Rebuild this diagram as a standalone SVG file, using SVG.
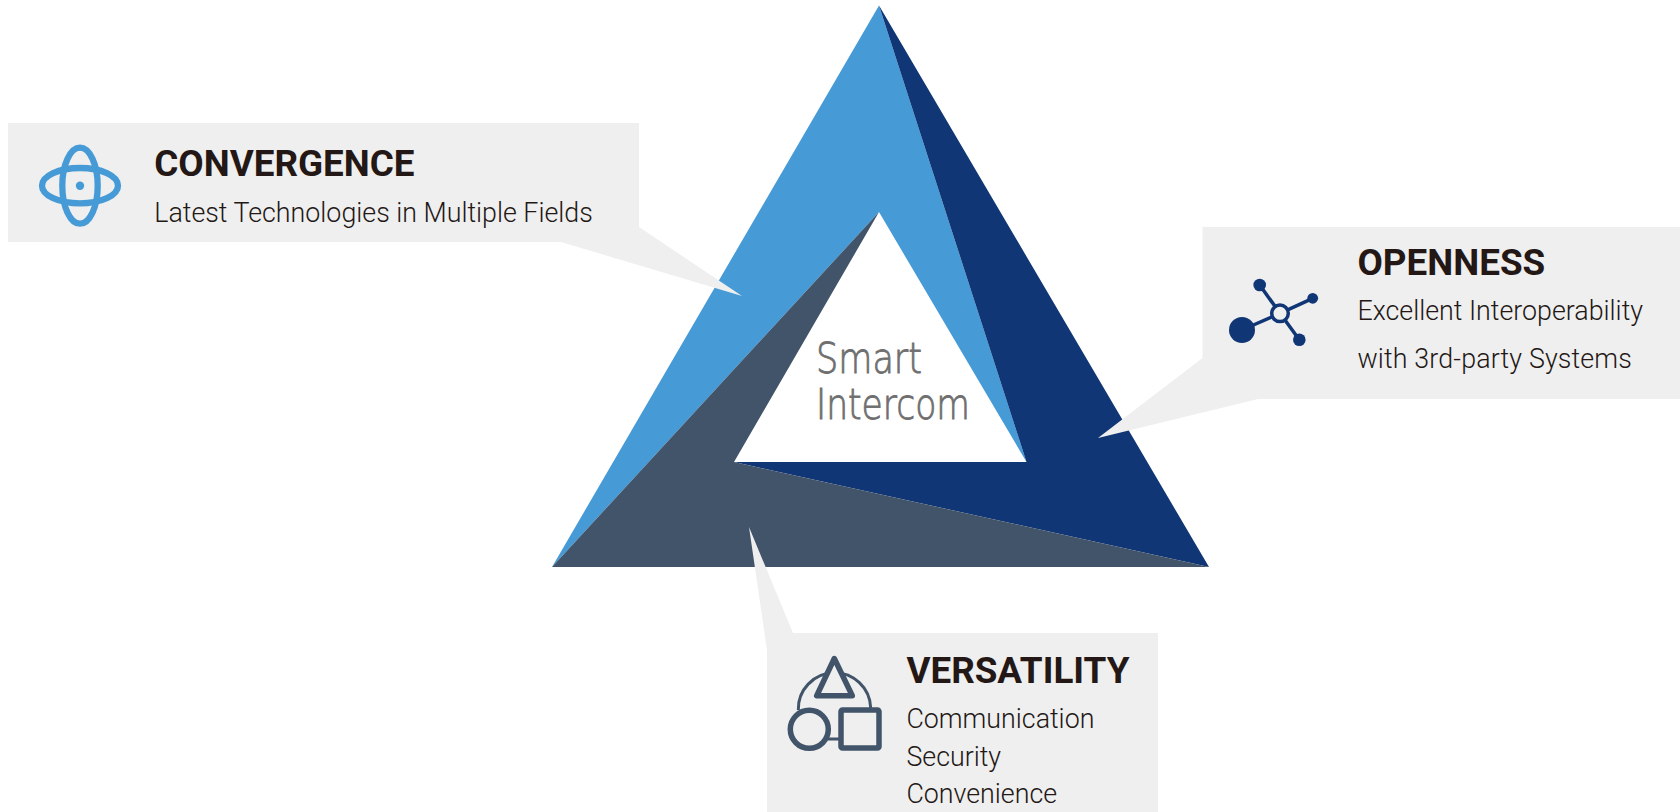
<svg xmlns="http://www.w3.org/2000/svg" width="1680" height="812" viewBox="0 0 1680 812">
<style>
.box{fill:#efefef}
.h{font-family:Roboto,"Liberation Sans",sans-serif;font-weight:700;font-size:36.8px;fill:#231815}
.s{font-family:Roboto,"Liberation Sans",sans-serif;font-weight:300;font-size:26.8px;fill:#231815}
.c{font-family:"DejaVu Sans","Liberation Sans",sans-serif;font-weight:200;font-size:43px;fill:#6f6f6f;stroke:#6f6f6f;stroke-width:0.9}
.l1{fill:none;stroke:#469bd7;stroke-width:6.3}
.l2{fill:none;stroke:#103675;stroke-width:3.5}
.l3{fill:none;stroke:#425469;stroke-width:5.5;stroke-linejoin:round}
.l3t{fill:none;stroke:#425469;stroke-width:3}
</style>
<rect width="1680" height="812" fill="#fff"/>
<g id="triangle">
<polygon points="879,5.5 552,567 879,212 1026.5,462" fill="#469bd7"/>
<polygon points="879,5.5 1209,567 734,462 1026.5,462" fill="#103675"/>
<polygon points="552,567 1209,567 734,462 879,212" fill="#425469"/>
<text class="c" x="816" y="373" textLength="106" lengthAdjust="spacingAndGlyphs">Smart</text>
<text class="c" x="816" y="419" textLength="154" lengthAdjust="spacingAndGlyphs">Intercom</text>
</g>
<g id="convergence">
<polygon class="box" points="8,123 639,123 639,227 742,296 561,242 8,242"/>
<ellipse class="l1" cx="80" cy="185.7" rx="38" ry="17.7"/>
<ellipse class="l1" cx="80" cy="185.7" rx="17.7" ry="38"/>
<circle cx="80" cy="185.7" r="4.2" fill="#469bd7"/>
<text class="h" x="154.3" y="176">CONVERGENCE</text>
<text class="s" x="154.3" y="222">Latest Technologies in Multiple Fields</text>
</g>
<g id="openness">
<polygon class="box" points="1202.5,227 1680,227 1680,399 1258,399 1098,438 1202.5,358"/>
<path class="l2" d="M1242,330L1280,313.3M1259.7,285L1280,313.3M1312.7,298.3L1280,313.3M1299.3,339.7L1280,313.3"/>
<circle cx="1280" cy="313.3" r="8.3" fill="#efefef" stroke="#103675" stroke-width="3.5"/>
<circle cx="1242" cy="330" r="13" fill="#103675"/>
<circle cx="1259.7" cy="285" r="6.3" fill="#103675"/>
<circle cx="1312.7" cy="298.3" r="5.4" fill="#103675"/>
<circle cx="1299.3" cy="339.7" r="6.3" fill="#103675"/>
<text class="h" x="1357.5" y="274.5">OPENNESS</text>
<text class="s" x="1357.5" y="320">Excellent Interoperability</text>
<text class="s" x="1357.5" y="367.5" letter-spacing="0.15">with 3rd-party Systems</text>
</g>
<g id="versatility">
<polygon class="box" points="767,812 767,650 749,527 793,633 1158,633 1158,812"/>
<path class="l3t" d="M798.3,710A36,36 0 0 1 870.7,708M828,739H841"/>
<polygon points="834.3,658.5 816.7,695.7 852.3,695.7" style="fill:#efefef" class="l3"/>
<circle class="l3" cx="809.3" cy="729.3" r="19" style="fill:#efefef"/>
<rect class="l3" x="841" y="710" width="38" height="38" rx="1.5"/>
<text class="h" x="906.4" y="682.5">VERSATILITY</text>
<text class="s" x="906.4" y="727.5">Communication</text>
<text class="s" x="906.4" y="765.5">Security</text>
<text class="s" x="906.4" y="802.5">Convenience</text>
</g>
<g id="connectors"></g>
</svg>
